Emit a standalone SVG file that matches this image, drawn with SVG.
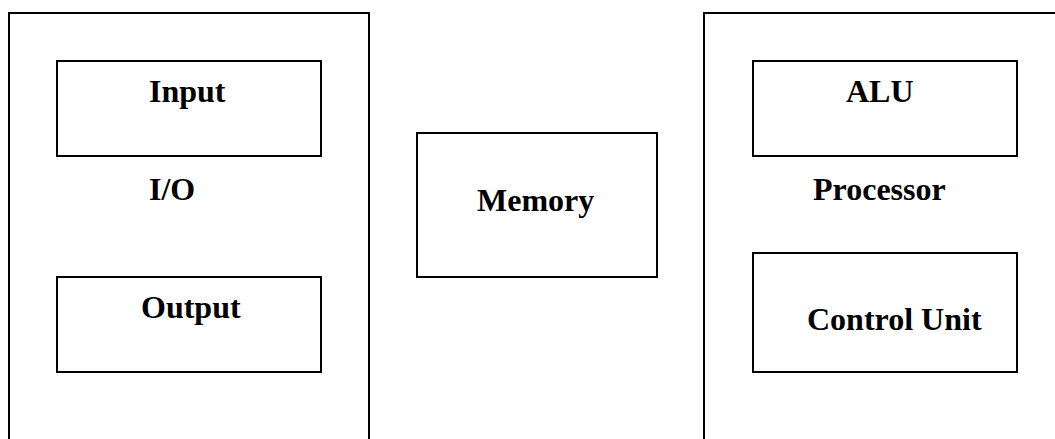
<svg xmlns="http://www.w3.org/2000/svg" width="1055" height="439" viewBox="0 0 1055 439">
<style>
.box{fill:none;stroke:#000;stroke-width:2}
.t{font-family:"Liberation Serif","Times New Roman",serif;font-weight:bold;font-size:32px;fill:#000}
</style>
<rect width="1055" height="439" fill="#fff"/>
<g id="io">
<path class="box" d="M9,440 V13 H369 V440"/>
<text class="t" x="149" y="200">I/O</text>
</g>
<g id="input">
<rect class="box" x="57" y="61" width="264" height="95"/>
<text class="t" x="149" y="102">Input</text>
</g>
<g id="output">
<rect class="box" x="57" y="277" width="264" height="95"/>
<text class="t" x="141" y="318">Output</text>
</g>
<g id="memory">
<rect class="box" x="417" y="133" width="240" height="144"/>
<text class="t" x="477" y="211">Memory</text>
</g>
<g id="processor">
<path class="box" d="M704,440 V13 H1060"/>
<text class="t" x="813" y="200">Processor</text>
</g>
<g id="alu">
<rect class="box" x="753" y="61" width="264" height="95"/>
<text class="t" x="846" y="102">ALU</text>
</g>
<g id="cu">
<rect class="box" x="753" y="253" width="264" height="119"/>
<text class="t" x="807" y="330">Control Unit</text>
</g>
<g id="connectors"></g>
</svg>
